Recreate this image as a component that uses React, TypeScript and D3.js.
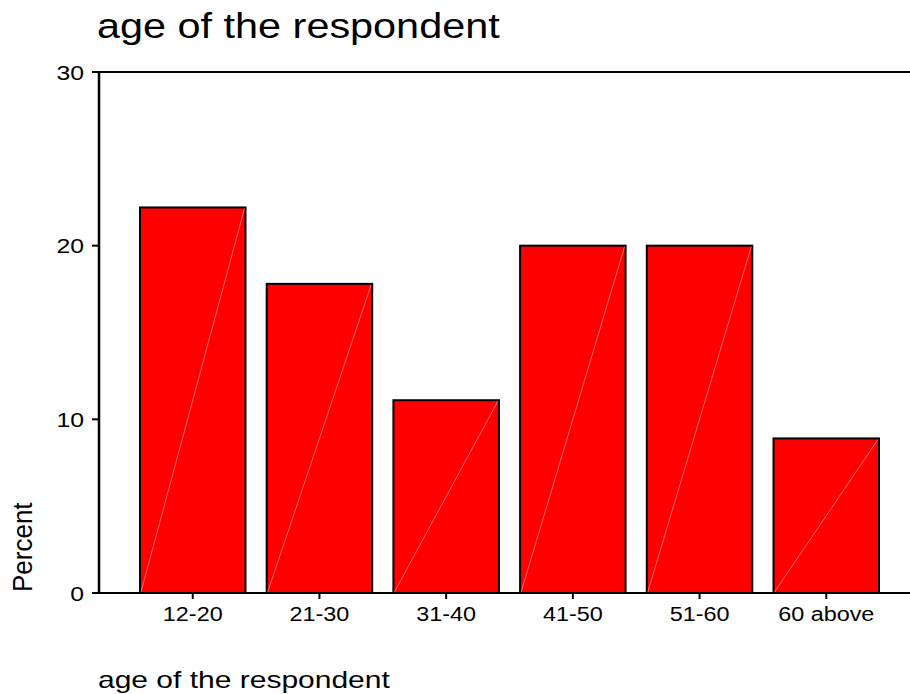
import React from "react";
import * as d3 from "d3";

const categories = ["12-20", "21-30", "31-40", "41-50", "51-60", "60 above"];
const percents = [22.2, 17.8, 11.1, 20.0, 20.0, 8.9];
const yTicks = [0, 10, 20, 30];
const titleText = "age of the respondent";
const xLabel = "age of the respondent";
const yLabel = "Percent";

const W = 910;
const H = 694;
const FONT = "Arial, 'Liberation Sans', Helvetica, sans-serif";

export default function App() {
  const axisX = 99;
  const baseY = 593;
  const topY = 72;
  const y = d3.scaleLinear().domain([0, 30]).range([baseY, topY]);
  const x = d3
    .scaleBand<string>()
    .domain(categories)
    .range([129.4, 889.6])
    .paddingInner(21.2 / 126.7)
    .paddingOuter(10.6 / 126.7);

  return (
    <svg
      width={W}
      height={H}
      style={{ position: "absolute", left: 0, top: 0, background: "#fff" }}
      fontFamily={FONT}
    >
      <rect x={0} y={0} width={W} height={H} fill="#fff" />
      {/* title */}
      <text
        transform={`translate(97,38) scale(1.2,1)`}
        fontSize={34.5}
        fill="#000"
      >
        {titleText}
      </text>

      {/* bars */}
      {percents.map((v, i) => {
        const bx = x(categories[i])!;
        const bw = x.bandwidth();
        const by = y(v);
        return (
          <g key={categories[i]}>
            <rect
              x={bx}
              y={by}
              width={bw}
              height={baseY - by}
              fill="#ff0000"
              stroke="#000"
              strokeWidth={2}
            />
            <line
              x1={bx + 1}
              y1={baseY - 1}
              x2={bx + bw - 1}
              y2={by + 1}
              stroke="#ff9a9a"
              strokeWidth={0.7}
            />
          </g>
        );
      })}

      {/* frame lines */}
      <line x1={92} y1={topY} x2={W} y2={topY} stroke="#000" strokeWidth={2} />
      <line x1={92} y1={baseY} x2={W} y2={baseY} stroke="#000" strokeWidth={2} />
      <line x1={axisX} y1={topY - 1} x2={axisX} y2={baseY + 1} stroke="#000" strokeWidth={2.5} />

      {/* y ticks */}
      {yTicks.map((t) => (
        <g key={t}>
          <line x1={92} y1={y(t)} x2={axisX} y2={y(t)} stroke="#000" strokeWidth={2} />
          <text
            transform={`translate(84,${y(t) + 7.5}) scale(1.18,1)`}
            fontSize={21}
            textAnchor="end"
            fill="#000"
          >
            {t}
          </text>
        </g>
      ))}

      {/* x ticks */}
      {categories.map((c) => {
        const cx = x(c)! + x.bandwidth() / 2;
        return (
          <g key={c}>
            <line x1={cx} y1={baseY} x2={cx} y2={baseY + 6} stroke="#000" strokeWidth={2} />
            <text
              transform={`translate(${cx},621) scale(1.2,1)`}
              fontSize={19.5}
              textAnchor="middle"
              fill="#000"
            >
              {c}
            </text>
          </g>
        );
      })}

      {/* axis labels */}
      <text
        transform={`translate(98,688) scale(1.25,1)`}
        fontSize={24}
        fill="#000"
      >
        {xLabel}
      </text>
      <text
        transform={`translate(32,592) scale(1.08,1) rotate(-90)`}
        fontSize={26}
        fill="#000"
      >
        {yLabel}
      </text>
    </svg>
  );
}
